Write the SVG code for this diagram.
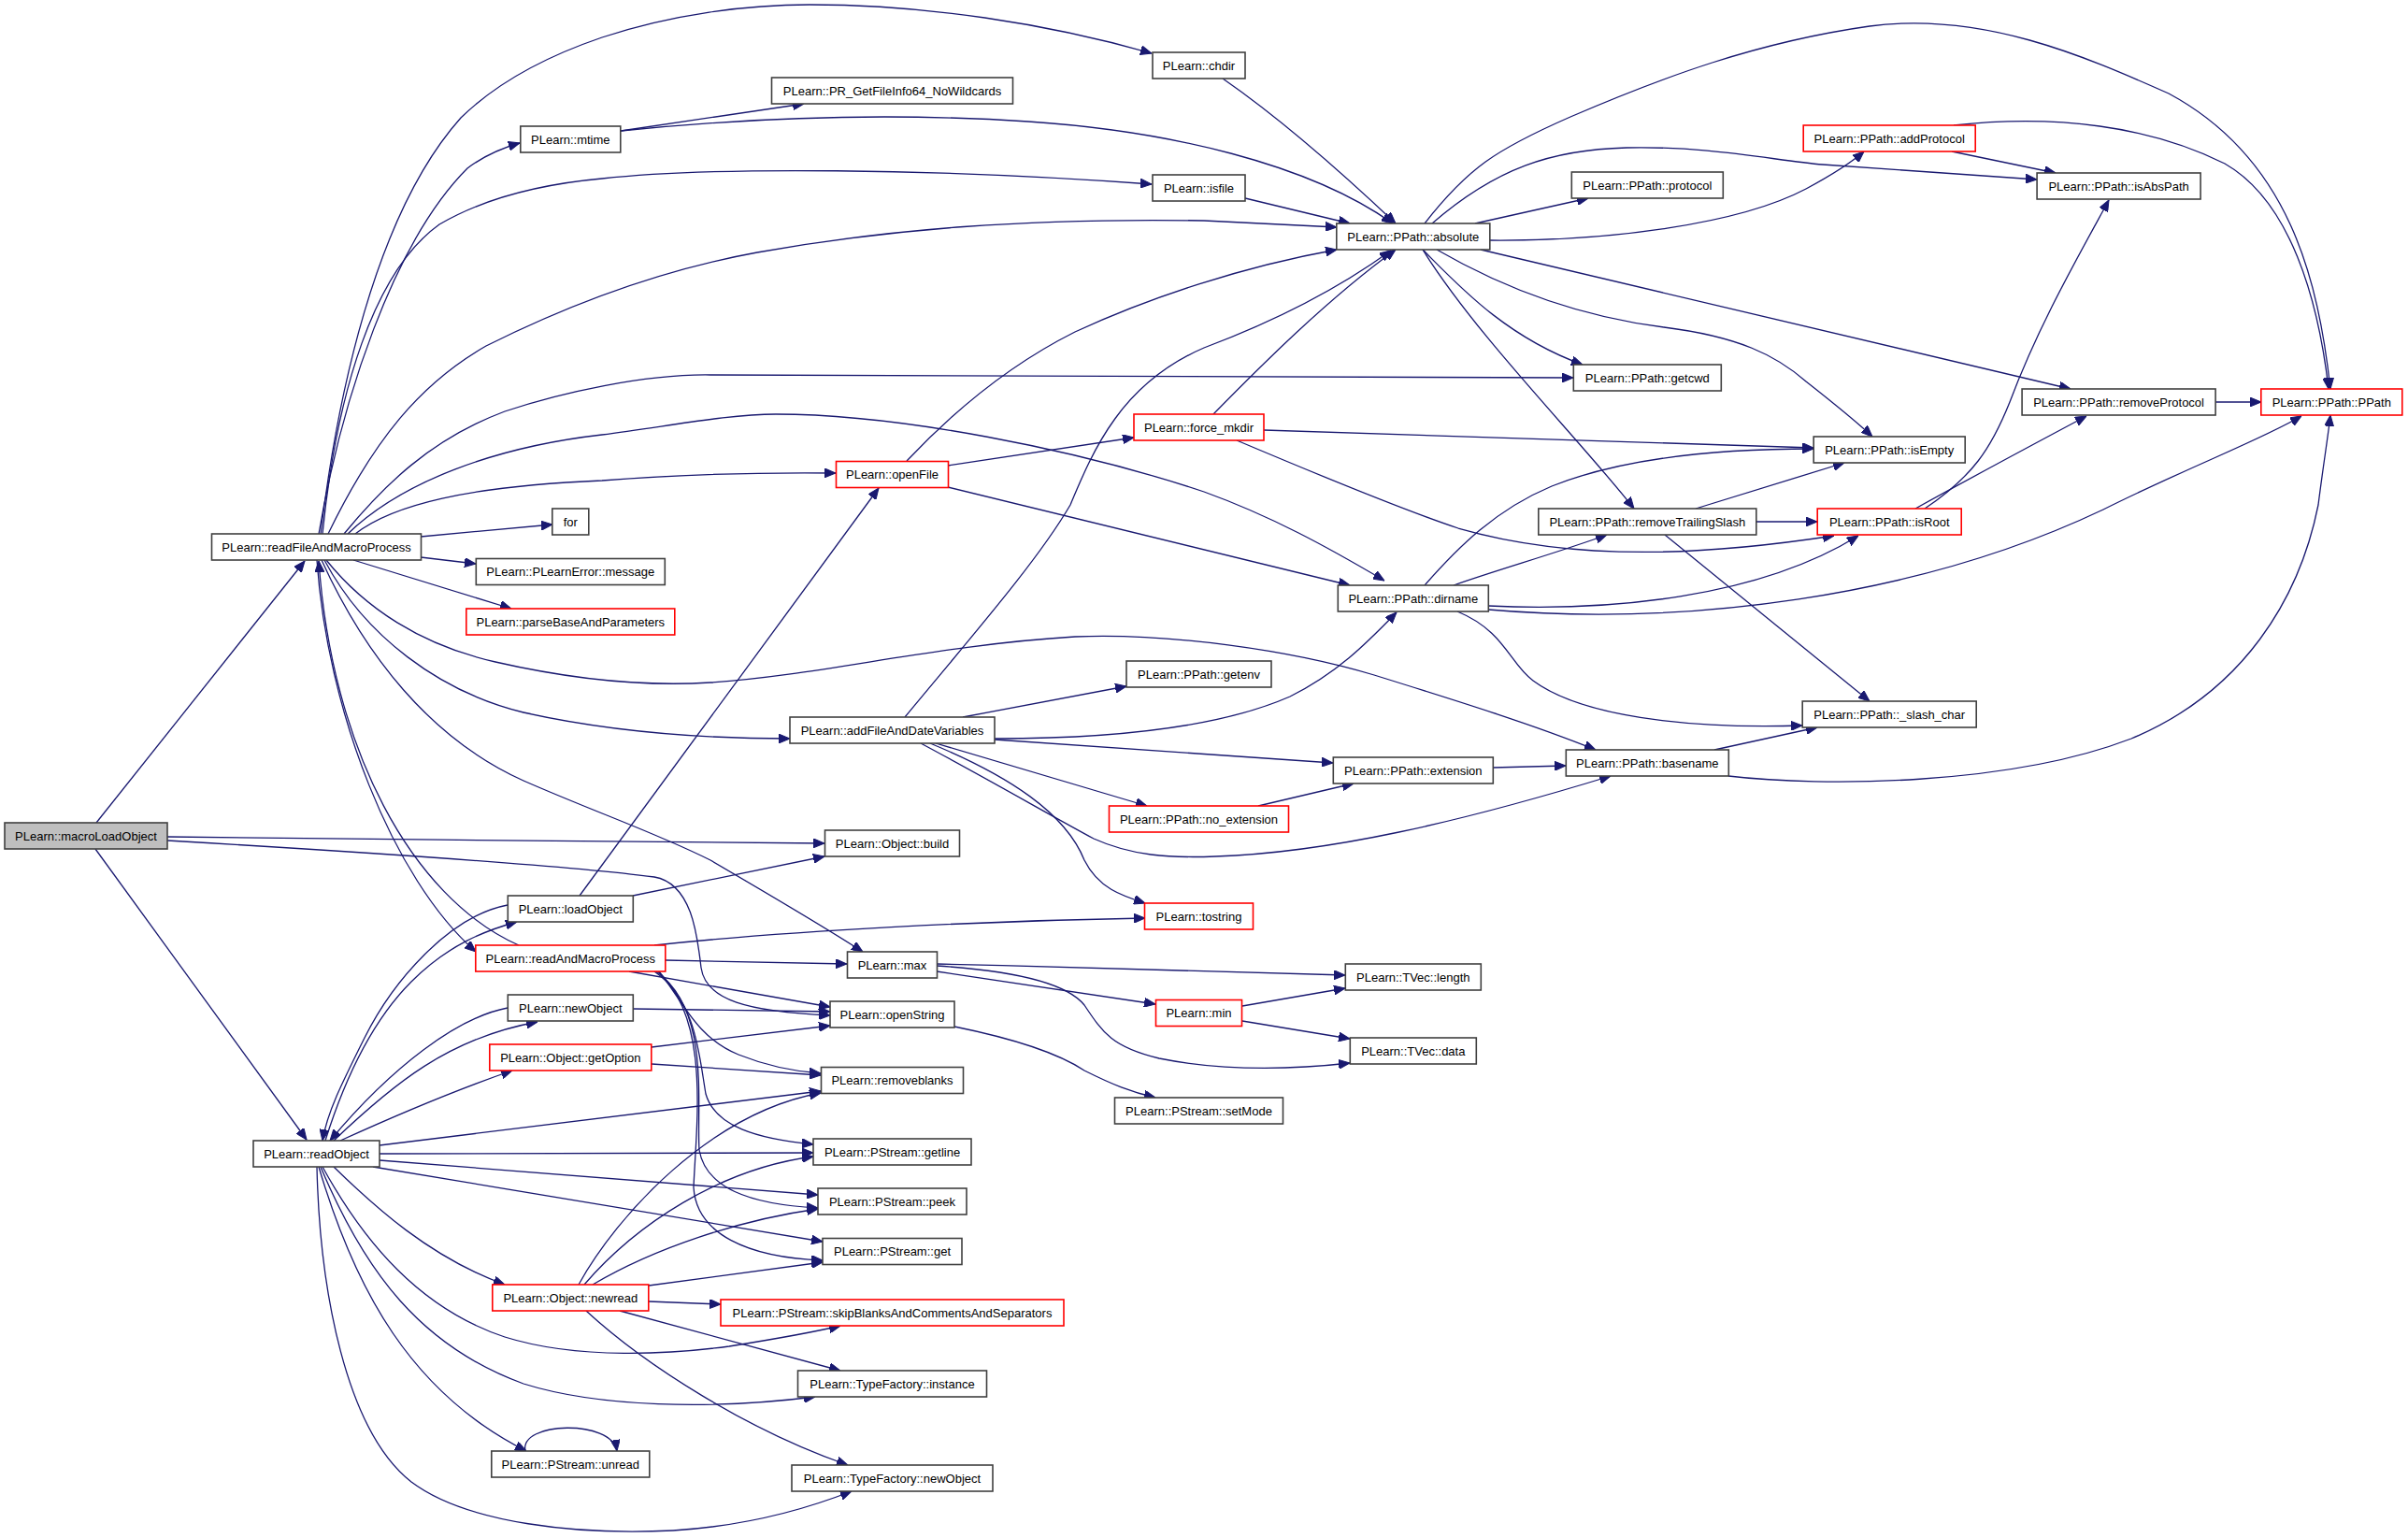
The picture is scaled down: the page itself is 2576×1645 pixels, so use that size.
<svg xmlns="http://www.w3.org/2000/svg" width="2576" height="1645" viewBox="0 0 2576 1645">
<style>
.n rect{fill:#ffffff;stroke:#404040;stroke-width:1.6}
.r rect{fill:#ffffff;stroke:#ff0000;stroke-width:1.6}
.g rect{fill:#bfbfbf;stroke:#404040;stroke-width:1.6}
text{font-family:"Liberation Sans",Arial,sans-serif;font-size:13px;text-anchor:middle;fill:#000000}
#edges path{fill:none;stroke:#191970;stroke-width:1.3;marker-end:url(#a)}
</style>
<defs>
<marker id="a" markerWidth="12" markerHeight="10" refX="12" refY="5" orient="auto" markerUnits="userSpaceOnUse">
<path d="M0,0 L12,5 L0,10 z" fill="#191970" stroke="#191970" stroke-width="1"/>
</marker>
</defs>
<rect width="2576" height="1645" fill="#ffffff"/>
<g id="edges">
<path d="M103,880 L326,600"/>
<path d="M179,895 C400,898 700,900 882,902"/>
<path d="M179,899 C400,912 600,925 700,938 C740,945 746,1000 750,1035 C755,1070 800,1082 888,1086"/>
<path d="M102,908 L328,1219"/>
<path d="M341,571 C365,430 420,260 500,180 C520,165 538,158 556,153"/>
<path d="M343,571 C360,430 400,230 493,126 C540,80 600,55 644,40 C720,15 800,5 866,5 C990,5 1120,25 1232,57"/>
<path d="M345,571 C360,420 400,290 470,240 C530,205 600,195 644,191 C760,178 1000,180 1232,197"/>
<path d="M351,571 C400,470 450,410 520,370 C600,330 700,290 810,270 C950,245 1100,233 1288,236 L1430,243"/>
<path d="M368,571 C410,520 460,470 540,440 C600,420 690,400 760,401 C900,404 1200,405 1683,404"/>
<path d="M372,571 C430,515 530,478 644,465 C720,455 780,443 830,443 C960,443 1150,480 1288,526 C1360,552 1420,585 1481,621"/>
<path d="M380,571 C420,540 500,520 644,514 C720,508 800,505 894,506"/>
<path d="M450,574 L591,561"/>
<path d="M450,596 L509,603"/>
<path d="M378,599 L547,651"/>
<path d="M349,599 C390,650 450,690 530,708 C600,724 680,735 760,730 C880,722 1000,690 1150,681 C1250,677 1380,695 1470,722 C1560,750 1640,775 1707,802"/>
<path d="M347,599 C390,680 470,740 560,762 C650,782 750,790 845,790"/>
<path d="M344,599 C390,700 460,790 560,835 C640,870 700,890 760,920 C820,955 880,990 923,1018"/>
<path d="M339,599 C350,760 420,940 509,1018"/>
<path d="M555,1011 C440,960 355,800 341,600"/>
<path d="M348,1220 C370,1150 400,1090 440,1050 C480,1010 520,995 553,986"/>
<path d="M543,968 C480,980 420,1050 390,1110 C365,1160 350,1190 345,1220"/>
<path d="M357,1220 C420,1160 480,1110 575,1093"/>
<path d="M543,1078 C490,1088 420,1140 353,1220"/>
<path d="M364,1220 C430,1190 490,1165 548,1145"/>
<path d="M406,1225 L878,1167"/>
<path d="M406,1234 L870,1233"/>
<path d="M406,1241 L875,1278"/>
<path d="M399,1248 L880,1328"/>
<path d="M357,1248 C400,1290 460,1345 540,1374"/>
<path d="M345,1248 C390,1330 450,1400 540,1430 C620,1455 720,1448 780,1440 C830,1432 870,1425 899,1418"/>
<path d="M343,1248 C390,1360 450,1440 560,1480 C640,1505 760,1508 872,1494"/>
<path d="M341,1248 C380,1380 440,1490 563,1552"/>
<path d="M339,1248 C342,1380 370,1530 440,1585 C500,1630 620,1642 720,1637 C800,1632 860,1615 911,1595"/>
<path d="M562,1552 C555,1520 655,1518 660,1552"/>
<path d="M619,1374 C660,1300 760,1190 878,1169"/>
<path d="M625,1374 C680,1310 770,1250 870,1237"/>
<path d="M634,1374 C700,1335 790,1305 875,1293"/>
<path d="M694,1375 L880,1350"/>
<path d="M694,1392 L771,1395"/>
<path d="M663,1402 L899,1466"/>
<path d="M627,1402 C690,1460 800,1530 907,1567"/>
<path d="M700,1011 C850,995 1050,985 1225,982"/>
<path d="M712,1027 L906,1031"/>
<path d="M673,1039 L888,1077"/>
<path d="M705,1039 C730,1070 745,1110 790,1128 C820,1140 850,1146 878,1148"/>
<path d="M700,1039 C745,1070 748,1130 755,1170 C765,1205 810,1218 870,1224"/>
<path d="M702,1039 C760,1080 745,1180 748,1230 C755,1270 800,1288 875,1292"/>
<path d="M704,1039 C760,1090 745,1200 742,1270 C745,1320 800,1345 880,1348"/>
<path d="M677,958 L882,916"/>
<path d="M620,958 L940,522"/>
<path d="M677,1079 L888,1082"/>
<path d="M697,1120 L888,1097"/>
<path d="M697,1138 L878,1150"/>
<path d="M1002,1031 C1150,1034 1300,1040 1439,1043"/>
<path d="M1002,1039 L1236,1074"/>
<path d="M1002,1033 C1080,1038 1140,1050 1160,1075 C1180,1105 1190,1120 1240,1132 C1320,1148 1400,1142 1444,1137"/>
<path d="M1021,1098 C1080,1110 1130,1125 1160,1145 C1190,1160 1210,1168 1236,1174"/>
<path d="M1329,1076 L1439,1057"/>
<path d="M1329,1092 L1444,1111"/>
<path d="M1030,767 L1205,734"/>
<path d="M968,767 C1040,680 1110,600 1145,540 C1170,480 1200,410 1288,372 C1360,345 1430,310 1488,268"/>
<path d="M1064,790 C1180,790 1300,780 1380,745 C1430,720 1460,690 1494,655"/>
<path d="M1064,791 L1426,816"/>
<path d="M1001,795 L1227,862"/>
<path d="M995,795 C1080,830 1140,870 1160,920 C1175,950 1200,958 1225,966"/>
<path d="M985,795 C1060,835 1120,870 1170,897 C1210,915 1250,918 1300,916 C1420,912 1560,880 1723,830"/>
<path d="M1555,626 C1600,610 1670,590 1719,572"/>
<path d="M1524,626 C1560,585 1600,545 1660,520 C1730,492 1830,480 1940,480"/>
<path d="M1592,648 C1720,654 1880,640 1988,573"/>
<path d="M1592,652 C1800,670 2050,640 2250,545 C2340,500 2420,470 2462,445"/>
<path d="M1559,654 C1610,675 1615,710 1640,728 C1690,765 1800,780 1928,776"/>
<path d="M1879,558 L1944,558"/>
<path d="M1814,544 L1973,495"/>
<path d="M1781,572 L2000,750"/>
<path d="M2059,544 C2110,510 2130,480 2150,430 C2180,350 2220,280 2256,214"/>
<path d="M2049,544 C2110,510 2170,478 2232,445"/>
<path d="M1298,443 C1350,390 1420,320 1493,267"/>
<path d="M1352,460 L1940,479"/>
<path d="M1323,471 C1420,512 1500,545 1560,565 C1700,605 1850,590 1962,573"/>
<path d="M970,493 C1020,440 1080,390 1150,355 C1230,318 1330,285 1430,267"/>
<path d="M1014,498 L1213,468"/>
<path d="M1014,521 L1444,626"/>
<path d="M664,140 L860,111"/>
<path d="M664,140 C800,126 950,120 1100,130 C1250,140 1400,175 1490,239"/>
<path d="M1308,84 C1360,120 1420,170 1493,239"/>
<path d="M1332,212 L1444,239"/>
<path d="M1524,239 C1570,180 1600,160 1680,125 C1780,82 1880,45 2000,28 C2120,12 2230,60 2320,100 C2450,170 2480,300 2493,416"/>
<path d="M1532,239 C1600,180 1660,160 1740,158 C1830,156 1900,172 1950,176 L2179,192"/>
<path d="M1578,239 L1699,212"/>
<path d="M1594,257 C1720,258 1860,240 1932,202 C1958,188 1978,176 1994,162"/>
<path d="M1584,267 L2215,416"/>
<path d="M1537,267 C1620,315 1700,340 1780,350 C1860,360 1900,380 1932,408 C1960,430 1985,450 2003,467"/>
<path d="M1522,267 C1560,305 1610,360 1693,390"/>
<path d="M1522,267 C1580,360 1690,470 1748,544"/>
<path d="M2088,162 L2199,185"/>
<path d="M2090,134 C2200,122 2300,135 2380,175 C2450,215 2480,320 2491,416"/>
<path d="M2370,430 L2419,430"/>
<path d="M1834,802 L1944,778"/>
<path d="M1849,830 C1950,842 2150,840 2280,790 C2400,740 2460,640 2480,540 C2485,500 2490,470 2493,444"/>
<path d="M1597,821 L1675,819"/>
<path d="M1346,862 L1448,838"/>
</g>
<g id="n_macroLoadObject" class="g"><rect x="5" y="880" width="174" height="28"/><text x="92" y="898.5">PLearn::macroLoadObject</text></g>
<g id="n_readFileAndMacroProcess" class="n"><rect x="226.5" y="571" width="224" height="28"/><text x="338.5" y="589.5">PLearn::readFileAndMacroProcess</text></g>
<g id="n_readObject" class="n"><rect x="271" y="1220" width="135" height="28"/><text x="338.5" y="1238.5">PLearn::readObject</text></g>
<g id="n_mtime" class="n"><rect x="556.8" y="135" width="107" height="28"/><text x="610.3" y="153.5">PLearn::mtime</text></g>
<g id="n_for" class="n"><rect x="590.8" y="544" width="39" height="28"/><text x="610.3" y="562.5">for</text></g>
<g id="n_message" class="n"><rect x="509.3" y="597.5" width="202" height="28"/><text x="610.3" y="616">PLearn::PLearnError::message</text></g>
<g id="n_parseBaseAndParameters" class="r"><rect x="498.8" y="651" width="223" height="28"/><text x="610.3" y="669.5">PLearn::parseBaseAndParameters</text></g>
<g id="n_loadObject" class="n"><rect x="543.3" y="958" width="134" height="28"/><text x="610.3" y="976.5">PLearn::loadObject</text></g>
<g id="n_readAndMacroProcess" class="r"><rect x="508.8" y="1011" width="203" height="28"/><text x="610.3" y="1029.5">PLearn::readAndMacroProcess</text></g>
<g id="n_newObject" class="n"><rect x="543.3" y="1064" width="134" height="28"/><text x="610.3" y="1082.5">PLearn::newObject</text></g>
<g id="n_getOption" class="r"><rect x="523.8" y="1117" width="173" height="28"/><text x="610.3" y="1135.5">PLearn::Object::getOption</text></g>
<g id="n_newread" class="r"><rect x="526.8" y="1374" width="167" height="28"/><text x="610.3" y="1392.5">PLearn::Object::newread</text></g>
<g id="n_unread" class="n"><rect x="525.8" y="1552" width="169" height="28"/><text x="610.3" y="1570.5">PLearn::PStream::unread</text></g>
<g id="n_PR_GetFileInfo64" class="n"><rect x="825.5" y="83" width="258" height="28"/><text x="954.5" y="101.5">PLearn::PR_GetFileInfo64_NoWildcards</text></g>
<g id="n_openFile" class="r"><rect x="894.5" y="493.5" width="120" height="28"/><text x="954.5" y="512">PLearn::openFile</text></g>
<g id="n_addFileAndDateVariables" class="n"><rect x="845" y="767" width="219" height="28"/><text x="954.5" y="785.5">PLearn::addFileAndDateVariables</text></g>
<g id="n_build" class="n"><rect x="882.5" y="888" width="144" height="28"/><text x="954.5" y="906.5">PLearn::Object::build</text></g>
<g id="n_max" class="n"><rect x="906.5" y="1018" width="96" height="28"/><text x="954.5" y="1036.5">PLearn::max</text></g>
<g id="n_openString" class="n"><rect x="888" y="1071" width="133" height="28"/><text x="954.5" y="1089.5">PLearn::openString</text></g>
<g id="n_removeblanks" class="n"><rect x="878.5" y="1141.5" width="152" height="28"/><text x="954.5" y="1160">PLearn::removeblanks</text></g>
<g id="n_getline" class="n"><rect x="870" y="1218" width="169" height="28"/><text x="954.5" y="1236.5">PLearn::PStream::getline</text></g>
<g id="n_peek" class="n"><rect x="875" y="1271" width="159" height="28"/><text x="954.5" y="1289.5">PLearn::PStream::peek</text></g>
<g id="n_get" class="n"><rect x="880" y="1324.5" width="149" height="28"/><text x="954.5" y="1343">PLearn::PStream::get</text></g>
<g id="n_skipBlanks" class="r"><rect x="771" y="1390" width="367" height="28"/><text x="954.5" y="1408.5">PLearn::PStream::skipBlanksAndCommentsAndSeparators</text></g>
<g id="n_instance" class="n"><rect x="853.5" y="1466" width="202" height="28"/><text x="954.5" y="1484.5">PLearn::TypeFactory::instance</text></g>
<g id="n_TF_newObject" class="n"><rect x="847" y="1567" width="215" height="28"/><text x="954.5" y="1585.5">PLearn::TypeFactory::newObject</text></g>
<g id="n_chdir" class="n"><rect x="1233" y="56" width="99" height="28"/><text x="1282.5" y="74.5">PLearn::chdir</text></g>
<g id="n_isfile" class="n"><rect x="1233" y="187" width="99" height="28"/><text x="1282.5" y="205.5">PLearn::isfile</text></g>
<g id="n_force_mkdir" class="r"><rect x="1213" y="443" width="139" height="28"/><text x="1282.5" y="461.5">PLearn::force_mkdir</text></g>
<g id="n_getenv" class="n"><rect x="1205" y="707" width="155" height="28"/><text x="1282.5" y="725.5">PLearn::PPath::getenv</text></g>
<g id="n_no_extension" class="r"><rect x="1186.5" y="862" width="192" height="28"/><text x="1282.5" y="880.5">PLearn::PPath::no_extension</text></g>
<g id="n_tostring" class="r"><rect x="1224.5" y="966" width="116" height="28"/><text x="1282.5" y="984.5">PLearn::tostring</text></g>
<g id="n_min" class="r"><rect x="1236.5" y="1069.5" width="92" height="28"/><text x="1282.5" y="1088">PLearn::min</text></g>
<g id="n_setMode" class="n"><rect x="1192.5" y="1174" width="180" height="28"/><text x="1282.5" y="1192.5">PLearn::PStream::setMode</text></g>
<g id="n_absolute" class="n"><rect x="1429.8" y="239" width="164" height="28"/><text x="1511.8" y="257.5">PLearn::PPath::absolute</text></g>
<g id="n_dirname" class="n"><rect x="1431.3" y="626" width="161" height="28"/><text x="1511.8" y="644.5">PLearn::PPath::dirname</text></g>
<g id="n_extension" class="n"><rect x="1426.3" y="810" width="171" height="28"/><text x="1511.8" y="828.5">PLearn::PPath::extension</text></g>
<g id="n_TVec_length" class="n"><rect x="1439.3" y="1031" width="145" height="28"/><text x="1511.8" y="1049.5">PLearn::TVec::length</text></g>
<g id="n_TVec_data" class="n"><rect x="1444.3" y="1110" width="135" height="28"/><text x="1511.8" y="1128.5">PLearn::TVec::data</text></g>
<g id="n_protocol" class="n"><rect x="1681.3" y="184" width="162" height="28"/><text x="1762.3" y="202.5">PLearn::PPath::protocol</text></g>
<g id="n_getcwd" class="n"><rect x="1683.3" y="390" width="158" height="28"/><text x="1762.3" y="408.5">PLearn::PPath::getcwd</text></g>
<g id="n_removeTrailingSlash" class="n"><rect x="1645.8" y="544" width="233" height="28"/><text x="1762.3" y="562.5">PLearn::PPath::removeTrailingSlash</text></g>
<g id="n_basename" class="n"><rect x="1675.3" y="802" width="174" height="28"/><text x="1762.3" y="820.5">PLearn::PPath::basename</text></g>
<g id="n_addProtocol" class="r"><rect x="1929.2" y="134" width="184" height="28"/><text x="2021.2" y="152.5">PLearn::PPath::addProtocol</text></g>
<g id="n_isEmpty" class="n"><rect x="1940.2" y="467" width="162" height="28"/><text x="2021.2" y="485.5">PLearn::PPath::isEmpty</text></g>
<g id="n_isRoot" class="r"><rect x="1944.2" y="544" width="154" height="28"/><text x="2021.2" y="562.5">PLearn::PPath::isRoot</text></g>
<g id="n_slash_char" class="n"><rect x="1928.2" y="750" width="186" height="28"/><text x="2021.2" y="768.5">PLearn::PPath::_slash_char</text></g>
<g id="n_isAbsPath" class="n"><rect x="2179.1" y="185" width="175" height="28"/><text x="2266.6" y="203.5">PLearn::PPath::isAbsPath</text></g>
<g id="n_removeProtocol" class="n"><rect x="2163.1" y="416" width="207" height="28"/><text x="2266.6" y="434.5">PLearn::PPath::removeProtocol</text></g>
<g id="n_PPath" class="r"><rect x="2418.8" y="416" width="151" height="28"/><text x="2494.3" y="434.5">PLearn::PPath::PPath</text></g>
</svg>
